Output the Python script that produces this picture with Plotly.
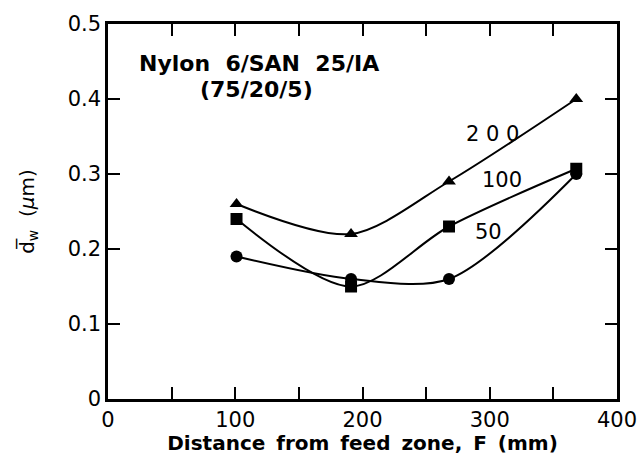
import plotly.graph_objects as go

x_vals = [101, 191, 268, 368]
y_200 = [0.26, 0.22, 0.29, 0.40]
y_100 = [0.24, 0.15, 0.23, 0.307]
y_50 = [0.19, 0.16, 0.16, 0.30]
series = [("200", y_200, "triangle-up"), ("100", y_100, "square"), ("50", y_50, "circle")]

x_ticks = [0, 50, 100, 150, 200, 250, 300, 350, 400]
x_ticktext = ["0", "", "100", "", "200", "", "300", "", "400"]
y_ticks = [0, 0.1, 0.2, 0.3, 0.4, 0.5]
y_ticktext = ["0", "0.1", "0.2", "0.3", "0.4", "0.5"]

FONT = "DejaVu Sans, sans-serif"

fig = go.Figure()
for name, ys, sym in series:
    fig.add_trace(go.Scatter(
        x=x_vals, y=ys, mode="lines+markers", name=name,
        line=dict(color="black", width=2, shape="spline", smoothing=0.85),
        marker=dict(symbol=sym, size=12, color="black"),
        showlegend=False,
    ))

axis_common = dict(
    showgrid=False, zeroline=False, showline=True, linecolor="black", linewidth=2.5,
    mirror="ticks", ticks="inside", ticklen=12, tickwidth=2, tickcolor="black",
    tickfont=dict(family=FONT, size=21, color="black"), automargin=False,
)
sp = " \u2009"
xtitle = sp.join(["Distance", "from", "feed", "zone,", "F", "(mm)"])
fig.update_xaxes(range=[0, 400], tickvals=x_ticks, ticktext=x_ticktext,
                 title=dict(text="<b>" + xtitle + "</b>",
                            font=dict(family=FONT, size=20, color="black"), standoff=1),
                 **axis_common)
fig.update_yaxes(range=[0, 0.5], tickvals=y_ticks, ticktext=y_ticktext,
                 title=dict(text="d\u0305<sub>w</sub>  (<i>\u03bc</i>m)",
                            font=dict(family=FONT, size=20, color="black"), standoff=28),
                 **axis_common)

fig.add_annotation(x=0.057, y=0.448, xref="paper", yref="y", xanchor="left", yanchor="middle",
                   text="<b>Nylon  6/SAN  25/IA</b>", showarrow=False,
                   font=dict(family=FONT, size=22, color="black"))
fig.add_annotation(x=(256 - 108) / 509, y=0.413, xref="paper", yref="y", xanchor="center",
                   yanchor="middle", text="<b>(75/20/5)</b>", showarrow=False,
                   font=dict(family=FONT, size=22, color="black"))
label_pos = [("2 0 0", 302, 0.353), ("100", 310, 0.292), ("50", 299, 0.223)]
for txt, lx, ly in label_pos:
    fig.add_annotation(x=lx, y=ly, text=txt, showarrow=False,
                       font=dict(family=FONT, size=21, color="black"))

fig.update_layout(
    width=639, height=455,
    margin=dict(l=108, r=22, t=24, b=56),
    paper_bgcolor="white", plot_bgcolor="white",
)
fig.write_html("out.html")
